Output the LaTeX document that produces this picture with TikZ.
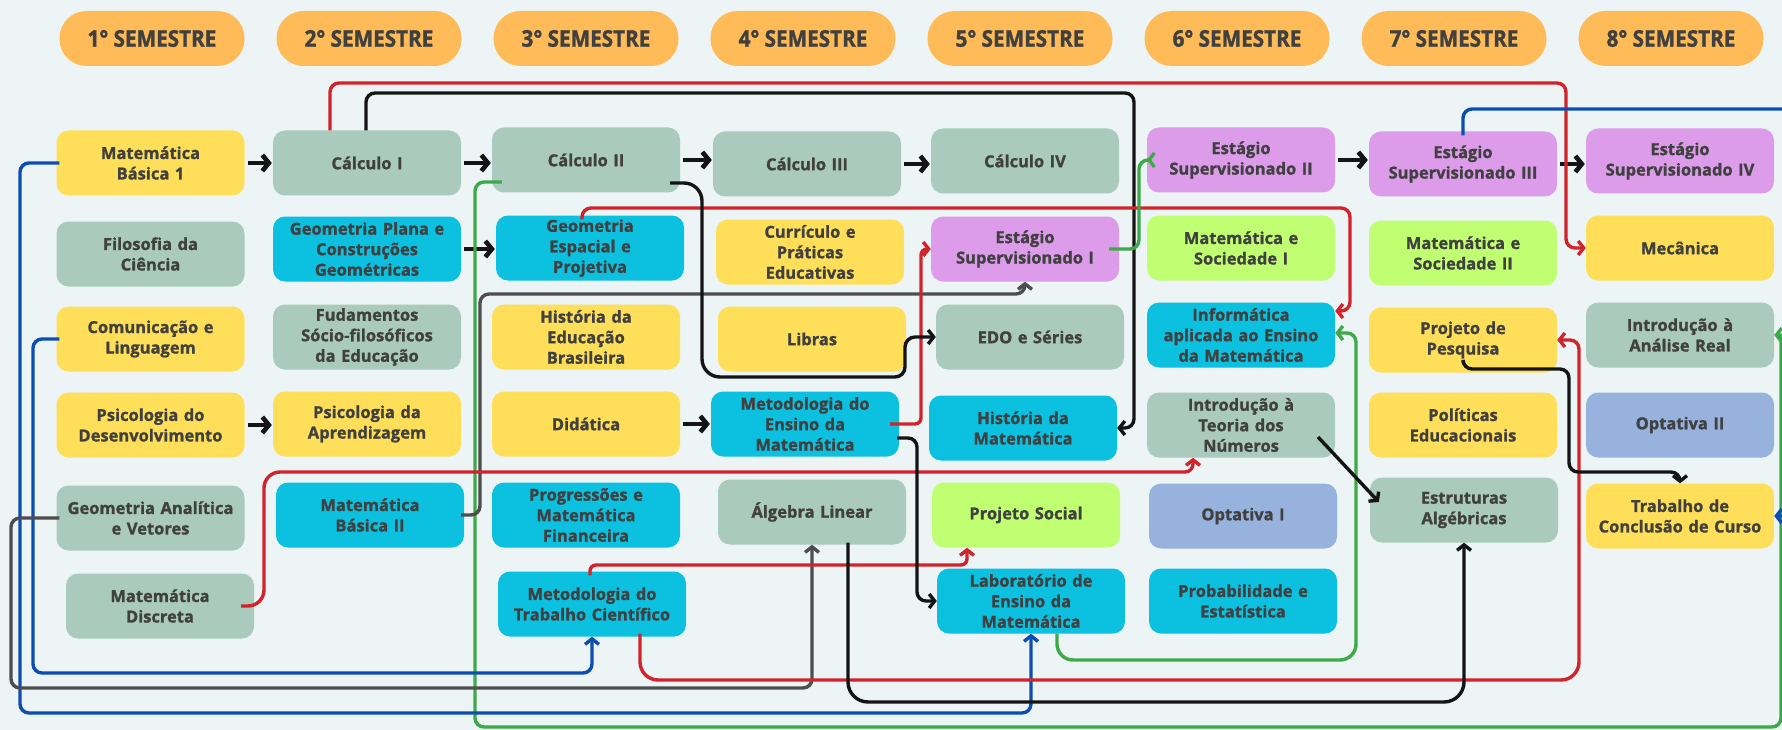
\documentclass[tikz,border=0pt]{standalone}
\usepackage{fontspec}
\setmainfont{Open Sans}[BoldFeatures={FakeBold=1.2}]
\newfontfamily\pillfont[FakeStretch=0.9,BoldFeatures={FakeBold=1.4}]{Open Sans}
\usetikzlibrary{arrows.meta,backgrounds}
\definecolor{bgc}{HTML}{ECF4F5}
\definecolor{pillc}{HTML}{FEBB58}
\definecolor{cY}{HTML}{FFDE59}
\definecolor{cS}{HTML}{A9CABC}
\definecolor{cC}{HTML}{0CC0DF}
\definecolor{cL}{HTML}{DC9CEA}
\definecolor{cG}{HTML}{C1FF72}
\definecolor{cO}{HTML}{97B3DD}
\definecolor{txt}{HTML}{404040}
\definecolor{lred}{HTML}{D1232A}
\definecolor{lblk}{HTML}{141414}
\definecolor{lgray}{HTML}{4D4D4D}
\definecolor{lblue}{HTML}{0C4DB3}
\definecolor{lgreen}{HTML}{3DAA48}
\begin{document}
\begin{tikzpicture}[x=1pt,y=-1pt,
  box/.style={rounded corners=12pt, minimum width=188pt, minimum height=65pt,
    text width=184pt, align=center, inner sep=0pt, text=txt,
    font=\bfseries\fontsize{16.5}{20.5}\selectfont},
  yb/.style={box,fill=cY}, sb/.style={box,fill=cS}, cb/.style={box,fill=cC},
  lb/.style={box,fill=cL}, gb/.style={box,fill=cG}, ob/.style={box,fill=cO},
  pill/.style={rounded corners=27pt, minimum width=185pt, minimum height=55pt,
    fill=pillc, text=txt, inner sep=0pt, font=\pillfont\bfseries\fontsize{23}{23}\selectfont},
  conn/.style={line width=3.4pt, rounded corners=9pt, -{Straight Barb[length=5.5pt,width=14pt]}},
  harr/.style={line width=4.6pt, draw=lblk, -{Straight Barb[length=6.5pt,width=16pt]}, shorten <=3pt, shorten >=1pt}
]
\useasboundingbox (0,0) rectangle (1782,730);
\clip (0,0) rectangle (1782,730);
\begin{scope}[on background layer]
\fill[bgc] (0,0) rectangle (1782,730);
\end{scope}
% semesters
\node[pill] (s1) at (152,38.5) {1° SEMESTRE};
\node[pill] (s2) at (369,38.5) {2° SEMESTRE};
\node[pill] (s3) at (586,38.5) {3° SEMESTRE};
\node[pill] (s4) at (803,38.5) {4° SEMESTRE};
\node[pill] (s5) at (1020,38.5) {5° SEMESTRE};
\node[pill] (s6) at (1237,38.5) {6° SEMESTRE};
\node[pill] (s7) at (1454,38.5) {7° SEMESTRE};
\node[pill] (s8) at (1671,38.5) {8° SEMESTRE};
% row A
\node[yb] (mb1) at (150.5,163) {Matemática\\Básica 1};
\node[sb] (calc1) at (367,163) {Cálculo I};
\node[sb] (calc2) at (586,160) {Cálculo II};
\node[sb] (calc3) at (807,164) {Cálculo III};
\node[sb] (calc4) at (1025,161) {Cálculo IV};
\node[lb] (est2) at (1241,160) {Estágio\\Supervisionado II};
\node[lb] (est3) at (1463,164) {Estágio\\Supervisionado III};
\node[lb] (est4) at (1680,161) {Estágio\\Supervisionado IV};
% row B
\node[sb] (fil) at (150.5,254) {Filosofia da\\Ciência};
\node[cb] (geoplana) at (367,249) {Geometria Plana e\\Construções\\Geométricas};
\node[cb] (geoesp) at (590,248) {Geometria\\Espacial e\\Projetiva};
\node[yb] (curric) at (810,252) {Currículo e\\Práticas\\Educativas};
\node[lb] (est1) at (1025,249) {Estágio\\Supervisionado I};
\node[gb] (ms1) at (1241,248) {Matemática e\\Sociedade I};
\node[gb] (ms2) at (1463,253) {Matemática e\\Sociedade II};
\node[yb] (mec) at (1680,248) {Mecânica};
% row C
\node[yb] (com) at (150.5,339) {Comunicação e\\Linguagem};
\node[sb] (fund) at (367,337) {Fudamentos\\Sócio-filosóficos\\da Educação};
\node[yb] (histedu) at (586,337) {História da\\Educação\\Brasileira};
\node[yb] (libras) at (812,339) {Libras};
\node[sb] (edo) at (1030,337) {EDO e Séries};
\node[cb] (info) at (1241,335) {Informática\\aplicada ao Ensino\\da Matemática};
\node[yb] (projpesq) at (1463,340) {Projeto de\\Pesquisa};
\node[sb] (introan) at (1680,335) {Introdução à\\Análise Real};
% row D
\node[yb] (psides) at (150.5,425) {Psicologia do\\Desenvolvimento};
\node[yb] (psiapr) at (367,424) {Psicologia da\\Aprendizagem};
\node[yb] (didat) at (586,424) {Didática};
\node[cb] (metens) at (805,424) {Metodologia do\\Ensino da\\Matemática};
\node[cb] (histmat) at (1023,428) {História da\\Matemática};
\node[sb] (introteo) at (1241,425) {Introdução à\\Teoria dos\\Números};
\node[yb] (polit) at (1463,425) {Políticas\\Educacionais};
\node[ob] (opt2) at (1680,425) {Optativa II};
% row E
\node[sb] (geoan) at (150.5,518) {Geometria Analítica\\e Vetores};
\node[cb] (mb2) at (370,515) {Matemática\\Básica II};
\node[cb] (progr) at (586,515) {Progressões e\\Matemática\\Financeira};
\node[sb] (alglin) at (812,512) {Álgebra Linear};
\node[gb] (projsoc) at (1026,515) {Projeto Social};
\node[ob] (opt1) at (1243,516) {Optativa I};
\node[sb] (estrut) at (1464,510) {Estruturas\\Algébricas};
\node[yb] (tcc) at (1680,516) {Trabalho de\\Conclusão de Curso};
% row F
\node[sb] (matdisc) at (160,606) {Matemática\\Discreta};
\node[cb] (mettrab) at (592,604) {Metodologia do\\Trabalho Científico};
\node[cb] (lab) at (1031,601) {Laboratório de\\Ensino da\\Matemática};
\node[cb] (prob) at (1243,601) {Probabilidade e\\Estatística};

% short arrows
\draw[harr] (mb1.east) -- (mb1.east -| calc1.west);
\draw[harr] (calc1.east) -- (calc1.east -| calc2.west);
\draw[harr] (calc2.east) -- (calc2.east -| calc3.west);
\draw[harr] (calc3.east) -- (calc3.east -| calc4.west);
\draw[harr] (est2.east) -- (est2.east -| est3.west);
\draw[harr] (est3.east) -- (est3.east -| est4.west);
\draw[harr] (psides.east) -- (psides.east -| psiapr.west);
\draw[harr] (geoplana.east) -- (geoplana.east -| geoesp.west);
\draw[harr] (didat.east) -- (didat.east -| metens.west);

% long connectors
\draw[conn,draw=lgreen] ([xshift=10pt,yshift=-22pt]calc2.west) -| (475,727) -| (1781,380) [sharp corners] -- (1781,335) -- (introan.east);
\draw[conn,draw=lred] ([xshift=-37pt]calc1.north) |- (1566,83) |- (mec.west);
\draw[conn,draw=lblk] ([xshift=-1pt]calc1.north) |- (1134,93) |- (histmat.east);
\draw[conn,draw=lblue] ([yshift=-4pt]est3.north) |- (1792,109) |- (tcc.east);
\draw[conn,draw=lblue] ([xshift=3pt]mb1.west) -| (20,713) -| (lab.south);
\draw[conn,draw=lblue] ([xshift=3pt]com.west) -| (33,673) -| (mettrab.south);
\draw[conn,draw=lgray] ([xshift=3pt]geoan.west) -| (11,688) -| (alglin.south);
\draw[conn,draw=lgray] ([xshift=-3pt]mb2.east) -| (480,294) -| (est1.south);
\draw[conn,draw=lred,rounded corners=16pt] ([xshift=-13pt]matdisc.east) -| (264,472) [rounded corners=8pt] -| ([xshift=-48pt]introteo.south);
\draw[conn,draw=lred,rounded corners=6pt] ([xshift=-2pt,yshift=-4pt]mettrab.north) |- (967,565) -- ([xshift=-59pt]projsoc.south);
\draw[conn,draw=lred,rounded corners=18pt] ([xshift=48pt,yshift=3pt]mettrab.south) |- (1579,680) [rounded corners=9pt] |- (projpesq.east);
\draw[conn,draw=lred] ([xshift=-8pt,yshift=-4pt]geoesp.north) |- (1350,208) |- ([yshift=24pt]info.east);
\draw[conn,draw=lgreen,rounded corners=16pt] ([xshift=26pt]lab.south) |- (1356,660) [rounded corners=9pt] |- ([yshift=2pt]info.east);
\draw[conn,draw=lgreen] ([xshift=-10pt]est1.east) -| (1139,160) -- (est2.west);
\draw[conn,draw=lred,rounded corners=6pt] ([xshift=-9pt]metens.east) -| (921,249) -- (est1.west);
\draw[conn,draw=lblk,rounded corners=18pt] ([xshift=-10pt,yshift=-23pt]calc2.east) -| (702,377) [rounded corners=10pt] -| (905,337) -- (edo.west);
\draw[conn,draw=lblk] ([xshift=-2pt,yshift=-14pt]metens.east) -| (917,601) -- (lab.west);
\draw[conn,draw=lblk,rounded corners=20pt] ([xshift=36pt,yshift=2pt]alglin.south) |- (1464,702) -- (estrut.south);
\draw[conn,draw=lblk] ([xshift=77pt,yshift=-12pt]introteo.center) -- ([xshift=9pt,yshift=8pt]estrut.west);
\draw[conn,draw=lblk] ([yshift=10pt]projpesq.south) |- (1569,369) |- (1680,472) -- (tcc.north);
\end{tikzpicture}
\end{document}
